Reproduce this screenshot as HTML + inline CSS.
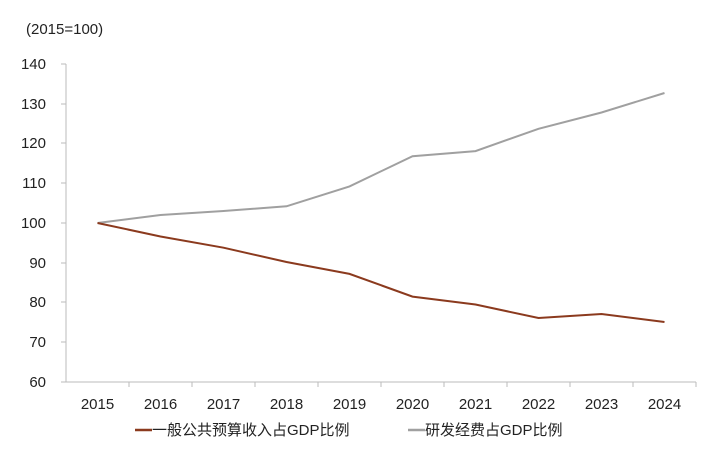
<!DOCTYPE html>
<html><head><meta charset="utf-8"><style>
body{margin:0;background:#fff;}
svg text{font-family:"Liberation Sans","Noto Sans CJK SC",sans-serif;fill:#222;}
</style></head><body>
<svg width="712" height="449" viewBox="0 0 712 449" xmlns="http://www.w3.org/2000/svg">
<text x="26" y="34" font-size="15">(2015=100)</text>
<g font-size="15" text-anchor="end">
<text x="46" y="69">140</text><text x="46" y="109">130</text><text x="46" y="148">120</text>
<text x="46" y="188">110</text><text x="46" y="228">100</text><text x="46" y="268">90</text>
<text x="46" y="307">80</text><text x="46" y="347">70</text><text x="46" y="387">60</text>
</g>
<g stroke="#bbb" stroke-width="1">
<line x1="66" y1="64" x2="66" y2="382"/>
<line x1="66" y1="382" x2="696" y2="382"/>
<line x1="61" y1="64" x2="66" y2="64"/><line x1="61" y1="104" x2="66" y2="104"/><line x1="61" y1="143" x2="66" y2="143"/>
<line x1="61" y1="183" x2="66" y2="183"/><line x1="61" y1="223" x2="66" y2="223"/><line x1="61" y1="263" x2="66" y2="263"/>
<line x1="61" y1="302" x2="66" y2="302"/><line x1="61" y1="342" x2="66" y2="342"/><line x1="61" y1="382" x2="66" y2="382"/>
<line x1="129" y1="382" x2="129" y2="387"/><line x1="192" y1="382" x2="192" y2="387"/><line x1="255" y1="382" x2="255" y2="387"/>
<line x1="318" y1="382" x2="318" y2="387"/><line x1="381" y1="382" x2="381" y2="387"/><line x1="444" y1="382" x2="444" y2="387"/>
<line x1="507" y1="382" x2="507" y2="387"/><line x1="570" y1="382" x2="570" y2="387"/><line x1="633" y1="382" x2="633" y2="387"/>
<line x1="696" y1="382" x2="696" y2="387"/>
</g>
<g font-size="15" text-anchor="middle">
<text x="97.5" y="409">2015</text><text x="160.5" y="409">2016</text><text x="223.5" y="409">2017</text>
<text x="286.5" y="409">2018</text><text x="349.5" y="409">2019</text><text x="412.5" y="409">2020</text>
<text x="475.5" y="409">2021</text><text x="538.5" y="409">2022</text><text x="601.5" y="409">2023</text>
<text x="664.5" y="409">2024</text>
</g>
<polyline fill="none" stroke="#a0a0a0" stroke-width="2" points="97.5,223 160.5,215 223.5,211 286.5,206.3 349.5,186.4 412.5,156.2 475.5,151.1 538.5,128.8 601.5,112.5 664.5,93"/>
<polyline fill="none" stroke="#8b3a1e" stroke-width="2" points="97.5,223 160.5,236.5 223.5,247.7 286.5,262 349.5,273.9 412.5,296.6 475.5,304.5 538.5,318 601.5,314 664.5,322"/>
<line x1="135" y1="430" x2="152" y2="430" stroke="#8b3a1e" stroke-width="2.5"/>
<text x="152" y="435" font-size="15">一般公共预算收入占GDP比例</text>
<line x1="408" y1="430" x2="425" y2="430" stroke="#a0a0a0" stroke-width="2.5"/>
<text x="425" y="435" font-size="15">研发经费占GDP比例</text>
</svg>
</body></html>
